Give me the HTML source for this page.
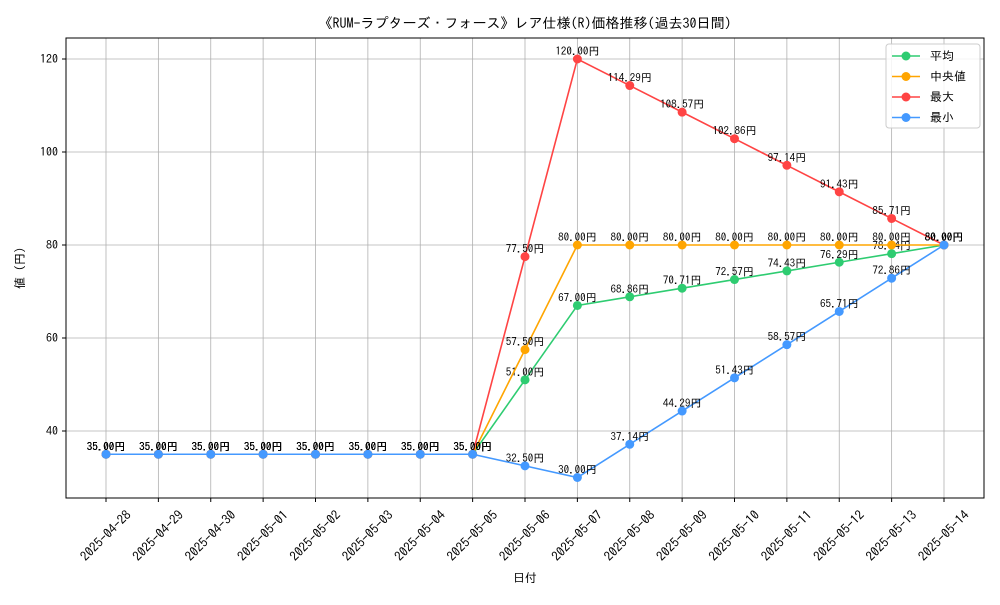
<!DOCTYPE html>
<html><head><meta charset="utf-8"><style>
body{margin:0;background:#fff;}
svg text{font-family:"IPAGothic","Liberation Sans","Noto Sans CJK JP",sans-serif;}
</style></head><body>
<svg id="chart" width="1000" height="600" xmlns="http://www.w3.org/2000/svg">
<rect width="1000" height="600" fill="#fff"/>
<text x="525" y="28" font-size="14" text-anchor="middle">《RUM-ラプターズ・フォース》レア仕様(R)価格推移(過去30日間)</text>
<g id="grid"></g>
<rect x="66" y="38" width="918" height="460" fill="none" stroke="#000" stroke-width="1"/>
<g id="axes"></g>
<g id="series"></g>
<text x="525" y="582" font-size="12" text-anchor="middle">日付</text>
<text x="24" y="268" font-size="12" text-anchor="middle" transform="rotate(-90 24 268)">値 (円)</text>
<g id="legend"></g>
</svg>
<script>
const dates=["2025-04-28","2025-04-29","2025-04-30","2025-05-01","2025-05-02","2025-05-03","2025-05-04","2025-05-05","2025-05-06","2025-05-07","2025-05-08","2025-05-09","2025-05-10","2025-05-11","2025-05-12","2025-05-13","2025-05-14"];
const avgValues=[35,35,35,35,35,35,35,35,51,67,68.86,70.71,72.57,74.43,76.29,78.14,80];
const medianValues=[35,35,35,35,35,35,35,35,57.5,80,80,80,80,80,80,80,80];
const maxValues=[35,35,35,35,35,35,35,35,77.5,120,114.29,108.57,102.86,97.14,91.43,85.71,80];
const minValues=[35,35,35,35,35,35,35,35,32.5,30,37.14,44.29,51.43,58.57,65.71,72.86,80];
const yTicks=[40,60,80,100,120];
const seriesNames=["平均","中央値","最大","最小"];

const NS="http://www.w3.org/2000/svg";
const x0=106,x1=944;
function xs(i){return x0+(x1-x0)*i/(dates.length-1);}
function ys(v){return 431+(40-v)*(372/80);}
function mk(tag,attrs,parent,txt){const e=document.createElementNS(NS,tag);for(const k in attrs)e.setAttribute(k,attrs[k]);if(txt!=null)e.textContent=txt;parent.appendChild(e);return e;}
const grid=document.getElementById('grid'),axes=document.getElementById('axes'),ser=document.getElementById('series'),leg=document.getElementById('legend');
dates.forEach((d,i)=>{
  const x=xs(i);
  const g=mk('line',{x1:x,x2:x,y1:38,y2:498,stroke:'#b0b0b0','stroke-width':0.8},grid);
  
  
  const t=mk('line',{x1:x,x2:x,y1:498,y2:502,stroke:'#000'},axes);
  
  
  const l=mk('text',{x:x,y:540,'font-size':13,'text-anchor':'middle',transform:`rotate(-45 ${x} 536)`},axes,d);
  
  
});
yTicks.forEach(v=>{
  const y=ys(v);
  const g=mk('line',{x1:66,x2:984,y1:y,y2:y,stroke:'#b0b0b0','stroke-width':0.8},grid);
  
  
  const t=mk('line',{x1:62,x2:66,y1:y,y2:y,stroke:'#000'},axes);
  
  
  const l=mk('text',{x:58,y:y+4,'font-size':12,'text-anchor':'end'},axes,String(v));
  
  
});
const allSeries=[[avgValues,'#2ecc71'],[medianValues,'#ffa500'],[maxValues,'#ff4444'],[minValues,'#4499ff']];
allSeries.forEach(([vals,c],si)=>{
  const g=mk('g',{},ser);
  
  
  const p=mk('polyline',{points:vals.map((v,i)=>xs(i)+','+ys(v)).join(' '),fill:'none',stroke:c,'stroke-width':1.6},g);
  
  
  vals.forEach((v,i)=>{
    const m=mk('circle',{cx:xs(i),cy:ys(v),r:4.5,fill:c},g);
    
    
    const t=mk('text',{x:xs(i),y:ys(v)-4,'font-size':11,'text-anchor':'middle',fill:'#000'},g,v.toFixed(2)+'円');
    
    
  });
});
const box=mk('rect',{x:886,y:44,width:94,height:84,fill:'#fff','fill-opacity':0.85,stroke:'#ccc',rx:3},leg);


seriesNames.forEach((n,i)=>{
  const y=56+i*20.5;
  const g=mk('g',{},leg);
  
  
  mk('line',{x1:892,x2:920,y1:y,y2:y,stroke:allSeries[i][1],'stroke-width':1.6},g);
  mk('circle',{cx:906,cy:y,r:4.5,fill:allSeries[i][1]},g);
  mk('text',{x:930,y:y+4,'font-size':12},g,n);
});
</script>
</body></html>
